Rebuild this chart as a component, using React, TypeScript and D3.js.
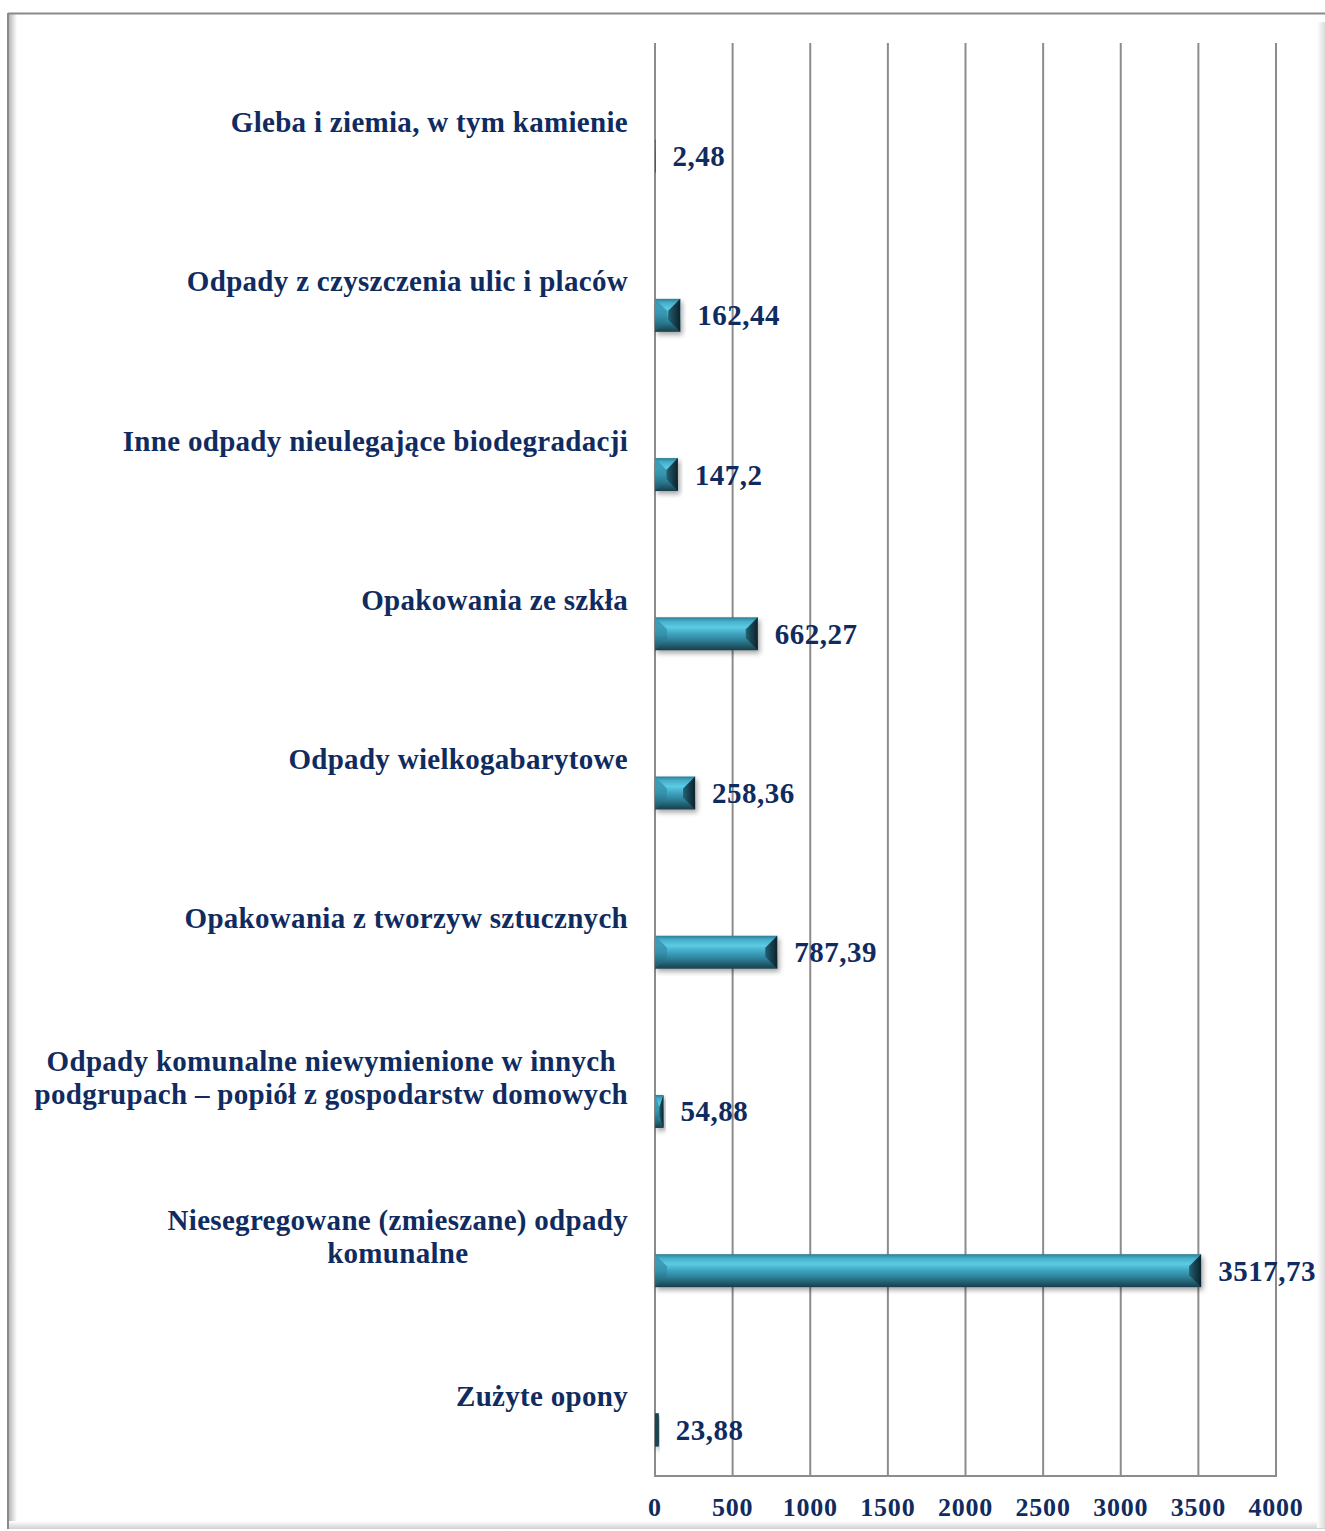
import React, { useEffect, useRef } from "react";
import * as d3 from "d3";

const categories: string[][] = [
  ["Gleba i ziemia, w tym kamienie"],
  ["Odpady z czyszczenia ulic i placów"],
  ["Inne odpady nieulegające biodegradacji"],
  ["Opakowania ze szkła"],
  ["Odpady wielkogabarytowe"],
  ["Opakowania z tworzyw sztucznych"],
  ["Odpady komunalne niewymienione w innych", "podgrupach – popiół z gospodarstw domowych"],
  ["Niesegregowane (zmieszane) odpady", "komunalne"],
  ["Zużyte opony"],
];
const values: number[] = [2.48, 162.44, 147.2, 662.27, 258.36, 787.39, 54.88, 3517.73, 23.88];
const valueLabels: string[] = ["2,48", "162,44", "147,2", "662,27", "258,36", "787,39", "54,88", "3517,73", "23,88"];
const ticks: number[] = [0, 500, 1000, 1500, 2000, 2500, 3000, 3500, 4000];

const W = 1325;
const H = 1531;
const FONT = "'Liberation Serif', 'DejaVu Serif', serif";
const TEXT = "#102b60";

export default function App() {
  const ref = useRef<SVGSVGElement | null>(null);

  useEffect(() => {
    const svg = d3.select(ref.current);
    svg.selectAll("*").remove();

    const defs = svg.append("defs");
    const gl = defs.append("linearGradient").attr("id", "shL").attr("x1", 0).attr("x2", 1).attr("y1", 0).attr("y2", 0);
    gl.append("stop").attr("offset", 0).attr("stop-color", "#b8b8b8");
    gl.append("stop").attr("offset", 1).attr("stop-color", "#ffffff");
    const gb = defs.append("linearGradient").attr("id", "shB").attr("x1", 0).attr("x2", 0).attr("y1", 0).attr("y2", 1);
    gb.append("stop").attr("offset", 0).attr("stop-color", "#ffffff");
    gb.append("stop").attr("offset", 1).attr("stop-color", "#d0d0d0");
    const gr = defs.append("linearGradient").attr("id", "shR").attr("x1", 0).attr("x2", 1).attr("y1", 0).attr("y2", 0);
    gr.append("stop").attr("offset", 0).attr("stop-color", "#ffffff");
    gr.append("stop").attr("offset", 1).attr("stop-color", "#dcdcdc");

    const bg = defs.append("linearGradient").attr("id", "barG").attr("x1", 0).attr("x2", 0).attr("y1", 0).attr("y2", 1);
    [
      [0, "#2b7d93"],
      [0.12, "#46aeca"],
      [0.3, "#5ccbe4"],
      [0.5, "#3ea3c0"],
      [0.68, "#2e849d"],
      [0.85, "#235e6e"],
      [1, "#173f4b"],
    ].forEach(([o, c]) => bg.append("stop").attr("offset", o as number).attr("stop-color", c as string));
    const lg = defs.append("linearGradient").attr("id", "barL").attr("x1", 0).attr("x2", 0).attr("y1", 0).attr("y2", 1);
    [
      [0, "#3a9ab5"],
      [0.5, "#3390aa"],
      [1, "#1f5564"],
    ].forEach(([o, c]) => lg.append("stop").attr("offset", o as number).attr("stop-color", c as string));
    const rg = defs.append("linearGradient").attr("id", "barR").attr("x1", 0).attr("x2", 1).attr("y1", 0).attr("y2", 0);
    [
      [0, "#236274"],
      [0.6, "#143946"],
      [1, "#0c242d"],
    ].forEach(([o, c]) => rg.append("stop").attr("offset", o as number).attr("stop-color", c as string));

    const flt = defs.append("filter").attr("id", "shadow").attr("x", "-10%").attr("y", "-30%").attr("width", "130%").attr("height", "180%");
    flt.append("feDropShadow").attr("dx", 2).attr("dy", 3).attr("stdDeviation", 2.5).attr("flood-color", "#000").attr("flood-opacity", 0.35);

    svg.append("rect").attr("x", 0).attr("y", 0).attr("width", W).attr("height", H).attr("fill", "#fff");

    // frame
    svg.append("rect").attr("x", 9).attr("y", 14).attr("width", 8).attr("height", 1514).attr("fill", "url(#shL)");
    svg.append("rect").attr("x", 9).attr("y", 1521).attr("width", 1320).attr("height", 8).attr("fill", "url(#shB)");
    svg.append("rect").attr("x", 1317).attr("y", 22).attr("width", 8).attr("height", 1506).attr("fill", "url(#shR)");
    svg.append("line").attr("x1", 8).attr("x2", 1325).attr("y1", 13.5).attr("y2", 13.5).attr("stroke", "#8a8a8a").attr("stroke-width", 2);
    svg.append("line").attr("x1", 8).attr("x2", 8).attr("y1", 13).attr("y2", 1529).attr("stroke", "#8a8a8a").attr("stroke-width", 2);

    const x = d3.scaleLinear().domain([0, 4000]).range([655, 1276]);
    const y = d3.scaleBand<number>().domain(d3.range(categories.length)).range([43, 1476]).padding(0);

    svg.append("g").selectAll("line").data(ticks).join("line")
      .attr("x1", (d) => x(d)).attr("x2", (d) => x(d))
      .attr("y1", 43).attr("y2", 1477)
      .attr("stroke", "#8c8c8c").attr("stroke-width", 2);
    svg.append("line").attr("x1", x(0) - 1).attr("x2", x(4000) + 1).attr("y1", 1476).attr("y2", 1476)
      .attr("stroke", "#8c8c8c").attr("stroke-width", 2);

    svg.append("g").selectAll("text").data(ticks).join("text")
      .attr("x", (d) => x(d)).attr("y", 1516)
      .attr("text-anchor", "middle")
      .attr("font-family", FONT).attr("font-weight", "bold").attr("font-size", 26)
      .attr("letter-spacing", 0.8)
      .attr("fill", TEXT)
      .text((d) => String(d));

    const barG = svg.append("g");
    values.forEach((v, i) => {
      const c = (y(i) as number) + y.bandwidth() / 2;
      const y0 = c + 17;
      const h = 33;
      const y1 = y0 + h;
      const x0 = x(0);
      const x1 = x(v);
      const w = x1 - x0;
      const b = Math.min(12, w / 2);
      const bv = Math.min(12, h / 2);
      const g = barG.append("g").attr("filter", "url(#shadow)");
      g.append("rect").attr("x", x0).attr("y", y0).attr("width", w).attr("height", h).attr("fill", "url(#barG)");
      g.append("polygon")
        .attr("points", [[x0, y0], [x0 + b, y0 + bv], [x0 + b, y1 - bv], [x0, y1]].map((p) => p.join(",")).join(" "))
        .attr("fill", "url(#barL)").attr("opacity", 0.85);
      g.append("polygon")
        .attr("points", [[x1, y0], [x1 - b, y0 + bv], [x1 - b, y1 - bv], [x1, y1]].map((p) => p.join(",")).join(" "))
        .attr("fill", "url(#barR)");
      if (w < 8) {
        g.append("rect").attr("x", x0).attr("y", y0).attr("width", w).attr("height", h).attr("fill", "#1a4552");
      }

      svg.append("text")
        .attr("x", x1 + 17).attr("y", y0 + h / 2 + 10)
        .attr("font-family", FONT).attr("font-weight", "bold").attr("font-size", 29)
        .attr("letter-spacing", 0.5)
        .attr("fill", TEXT)
        .text(valueLabels[i]);
    });

    categories.forEach((lines, i) => {
      const c = (y(i) as number) + y.bandwidth() / 2;
      const t = svg.append("text")
        .attr("font-family", FONT).attr("font-weight", "bold").attr("font-size", 29)
        .attr("letter-spacing", 0.3)
        .attr("fill", TEXT).attr("text-anchor", "middle");
      const n = lines.length;
      const lh = 33;
      const spans = lines.map((l, k) =>
        t.append("tspan").attr("y", c + 9.5 + (k - (n - 1) / 2) * lh).text(l)
      );
      let maxW = 0;
      spans.forEach((s) => {
        const node = s.node() as SVGTSpanElement;
        maxW = Math.max(maxW, node.getComputedTextLength());
      });
      const cx = 628 - maxW / 2;
      spans.forEach((s) => s.attr("x", cx));
    });
  }, []);

  return (
    <svg
      ref={ref}
      width={W}
      height={H}
      style={{ position: "absolute", left: 0, top: 0, display: "block" }}
    />
  );
}
